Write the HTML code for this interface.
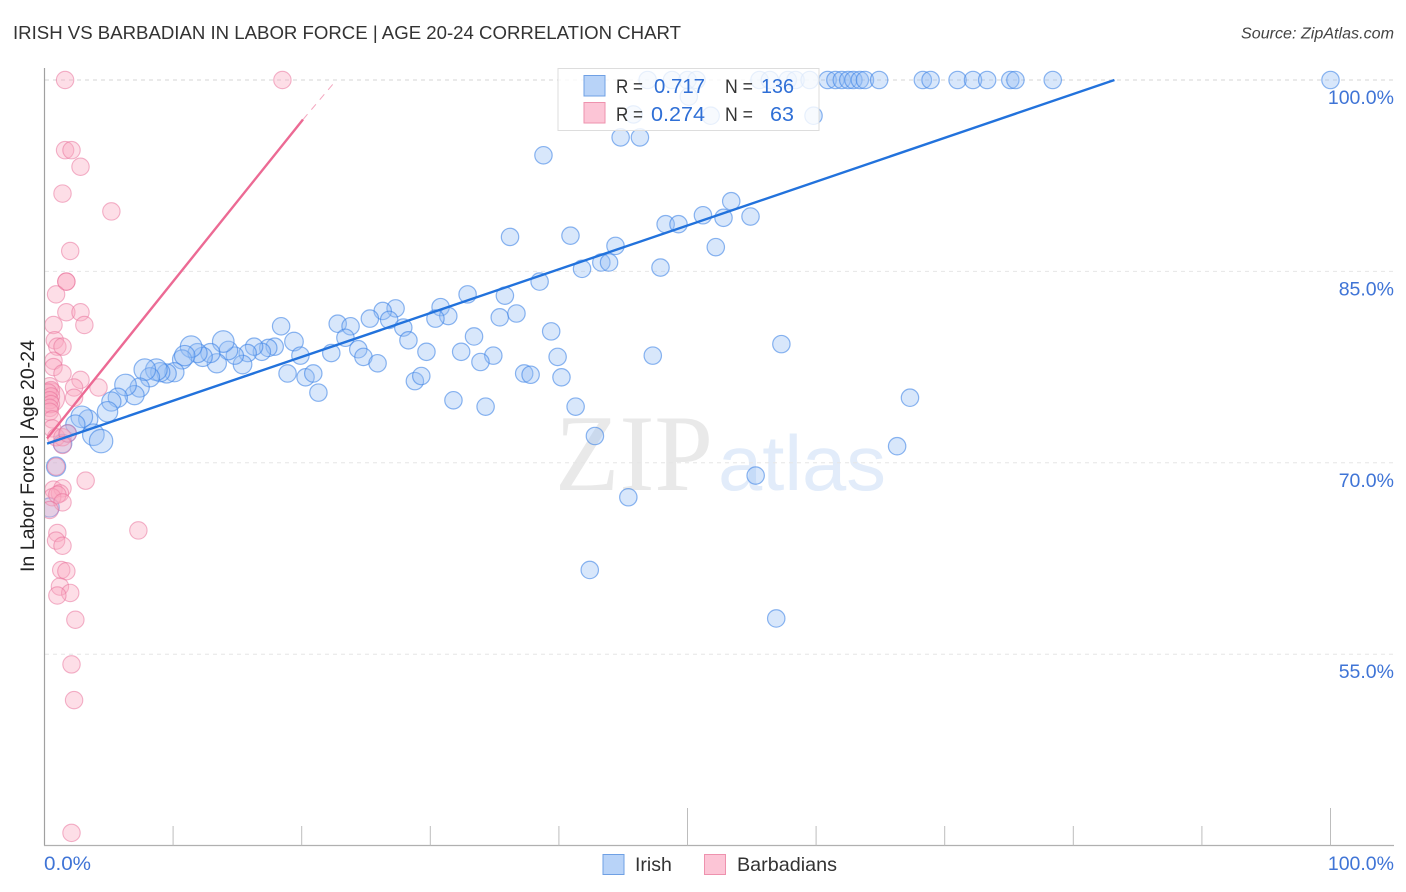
<!DOCTYPE html>
<html lang="en">
<head>
<meta charset="utf-8">
<title>Irish vs Barbadian In Labor Force | Age 20-24 Correlation Chart</title>
<style>
html,body{margin:0;padding:0;background:#fff;}
body{width:1406px;height:892px;overflow:hidden;}
svg{display:block;font-family:"Liberation Sans",Arial,sans-serif;}
</style>
</head>
<body>
<svg id="chart" xmlns="http://www.w3.org/2000/svg" width="1406" height="892" viewBox="0 0 1406 892">
  <defs>
    <clipPath id="plot-clip"><rect x="45" y="60" width="1349" height="785"/></clipPath>
  </defs>
  <rect x="0" y="0" width="1406" height="892" fill="#ffffff"/>
  <text x="13" y="39" font-size="18.5" fill="#333333" textLength="668" lengthAdjust="spacingAndGlyphs">IRISH VS BARBADIAN IN LABOR FORCE | AGE 20-24 CORRELATION CHART</text>
  <text x="1241" y="38.5" font-size="15.5" font-style="italic" fill="#444444" textLength="153" lengthAdjust="spacingAndGlyphs">Source: ZipAtlas.com</text>

  <g>
    <text x="555" y="490" font-family="'Liberation Serif',serif" font-size="109" fill="#e9e9e9" textLength="158" lengthAdjust="spacingAndGlyphs">ZIP</text>
    <text x="718" y="490" font-size="78" fill="#e2ecfa" textLength="168" lengthAdjust="spacingAndGlyphs">atlas</text>
  </g>

  <g id="grid"></g>
  <g id="axes"></g>
  <g clip-path="url(#plot-clip)">
    <g id="irish-series"></g>
    <g id="barbadian-series"></g>
    <g id="trends"></g>
  </g>

  <text transform="translate(34,572) rotate(-90)" font-size="19" fill="#222222" textLength="232" lengthAdjust="spacingAndGlyphs">In Labor Force | Age 20-24</text>

  <g>
    <rect x="558" y="68.5" width="261" height="62" fill="#ffffff" fill-opacity="0.8" stroke="#dddddd" stroke-width="1"/>
    <rect x="584" y="75.5" width="21" height="20.5" fill="#b8d3f8" stroke="#6fa0e4" stroke-width="1"/>
    <rect x="584" y="102.5" width="21" height="20.5" fill="#fcc5d6" stroke="#ee92ae" stroke-width="1"/>
    <text x="616" y="93" font-size="19.5" fill="#333333" textLength="27" lengthAdjust="spacingAndGlyphs">R =</text>
    <text x="654" y="93" font-size="20.5" fill="#2f6fd6" textLength="51" lengthAdjust="spacingAndGlyphs">0.717</text>
    <text x="725" y="93" font-size="19.5" fill="#333333" textLength="28" lengthAdjust="spacingAndGlyphs">N =</text>
    <text x="761" y="93" font-size="20.5" fill="#2f6fd6" textLength="33" lengthAdjust="spacingAndGlyphs">136</text>
    <text x="616" y="121" font-size="19.5" fill="#333333" textLength="27" lengthAdjust="spacingAndGlyphs">R =</text>
    <text x="651" y="121" font-size="20.5" fill="#2f6fd6" textLength="54" lengthAdjust="spacingAndGlyphs">0.274</text>
    <text x="725" y="121" font-size="19.5" fill="#333333" textLength="28" lengthAdjust="spacingAndGlyphs">N =</text>
    <text x="770" y="121" font-size="20.5" fill="#2f6fd6" textLength="24" lengthAdjust="spacingAndGlyphs">63</text>
  </g>

  <g>
    <rect x="603" y="854.5" width="21" height="20" fill="#b8d3f8" stroke="#6fa0e4" stroke-width="1"/>
    <text x="635" y="871" font-size="19.5" fill="#333333">Irish</text>
    <rect x="704.5" y="854.5" width="21" height="20" fill="#fcc5d6" stroke="#ee92ae" stroke-width="1"/>
    <text x="737" y="871" font-size="19.5" fill="#333333" textLength="100" lengthAdjust="spacingAndGlyphs">Barbadians</text>
  </g>
</svg>

<script>
// Chart data (x = Irish/Barbadian share %, y = In Labor Force %)
const yTicks = [100, 85, 70, 55];
const yTickLabels = ["100.0%", "85.0%", "70.0%", "55.0%"];
const xTicks = [10, 20, 30, 40, 50, 60, 70, 80, 90, 100];
const xMajorTicks = [50, 100];
const xEndLabels = ["0.0%", "100.0%"];

const irishX = [
  18.4,19.4,19.9,18.9,20.3,17.9,17.4,16.9,16.3,15.8,15.4,14.8,14.3,13.9,13.4,12.9,12.3,11.9,11.4,10.7,10.9,
  10.1,9.5,9.0,8.7,8.2,7.8,7.4,7.0,6.3,5.7,5.2,4.9,3.4,2.9,2.4,1.8,1.4,3.8,4.4,0.9,0.4,
  46.9,48.8,50.0,50.7,55.6,56.4,57.8,58.4,59.5,60.9,61.5,62.0,62.5,62.9,63.4,63.8,64.9,68.3,68.9,71.0,72.2,73.3,75.1,75.5,78.4,100.0,
  51.8,59.8,45.8,50.1,44.8,46.3,38.8,36.2,40.9,48.3,49.3,51.2,52.8,53.4,54.9,52.2,44.4,43.3,43.9,41.8,47.9,38.5,
  32.9,35.8,30.8,31.4,30.4,35.4,36.7,27.3,26.3,26.8,25.3,27.9,28.3,22.8,23.8,23.4,39.4,33.4,32.4,29.7,34.9,33.9,
  39.9,47.3,57.3,24.4,24.8,25.9,22.3,37.3,37.8,40.2,28.8,29.3,20.9,21.3,31.8,34.3,41.3,42.8,45.4,55.3,66.3,67.3,42.4,56.9
];
const irishY = [
  80.7,79.5,78.4,77.0,76.7,79.1,79.0,78.7,79.1,78.6,77.7,78.4,78.8,79.5,77.8,78.6,78.3,78.6,79.1,78.1,78.4,
  77.1,77.0,77.1,77.3,76.7,77.3,75.9,75.3,76.1,75.1,74.8,74.0,73.4,73.6,73.0,72.3,71.5,72.2,71.7,69.7,66.5,
  100,100,100,100,100,100,100,100,100,100,100,100,100,100,100,100,100,100,100,100,100,100,100,100,100,100,
  97.2,97.2,97.3,98.7,95.5,95.5,94.1,87.7,87.8,88.7,88.7,89.4,89.2,90.5,89.3,86.9,87.0,85.7,85.7,85.2,85.3,84.2,
  83.2,83.1,82.2,81.5,81.3,81.4,81.7,82.1,81.9,81.2,81.3,80.6,79.6,80.9,80.7,79.8,80.3,79.9,78.7,78.7,78.4,77.9,
  78.3,78.4,79.3,78.9,78.3,77.8,78.6,77.0,76.9,76.7,76.4,76.8,77.0,75.5,74.9,74.4,74.4,72.1,67.3,69.0,71.3,75.1,61.6,57.8
];
const irishWeight = [0,2,0,0,0,0,0,0,0,0,2,0,2,7,3,3,3,3,7,3,5,3,3,3,7,3,7,3,3,7,3,3,5,3,7,3,0,2,7,10,3,3];

const barbadianX = [
  0.4,1.6,18.5,1.6,2.1,2.8,1.4,5.2,2.0,1.7,1.7,0.9,1.7,2.8,3.1,0.7,0.8,1.0,1.4,0.7,0.7,1.4,2.8,2.3,2.3,4.2,
  0.4,0.5,0.3,0.5,0.4,0.5,0.4,0.4,0.6,0.6,0.9,1.4,1.8,1.4,0.9,3.2,0.7,1.4,1.2,0.6,1.0,1.4,0.4,
  1.0,0.9,1.4,7.3,1.3,1.7,1.2,2.0,1.0,2.4,2.1,2.3,2.1
];
const barbadianY = [
  75.1,100,100,94.5,94.5,93.2,91.1,89.7,86.6,84.2,84.2,83.2,81.8,81.8,80.8,80.8,79.6,79.1,79.1,78.0,77.5,77.0,76.5,75.9,75.1,75.9,
  76.0,75.7,75.5,75.2,74.9,74.6,74.3,74.0,73.4,72.7,72.0,72.0,72.3,71.4,69.7,68.6,67.9,68.0,67.6,67.3,67.5,66.9,66.3,
  64.5,63.9,63.5,64.7,61.6,61.5,60.3,59.8,59.6,57.7,54.2,51.4,41.0
];
const barbadianWeight = [21];

const irishTrendX = [0.2, 83.2];
const irishTrendY = [71.5, 100];
const barbadianTrendX = [0.2, 20.1];
const barbadianTrendY = [71.9, 96.9];
const barbadianDashedX = [20.1, 22.7];
const barbadianDashedY = [96.9, 100];

// Axis functions
const xScale = v => 44.5 + v * 12.86;
const yScale = v => 80 + (100 - v) * 12.76;
const irishRadius = w => 8.7 + w * 0.3;
const barbadianRadius = w => 8.7 + w * 0.3;

const NS = "http://www.w3.org/2000/svg";
function make(tag, attrs, parent) {
  const el = document.createElementNS(NS, tag);
  for (const k in attrs) el.setAttribute(k, attrs[k]);
  parent.appendChild(el);
  return el;
}

const gridG = document.getElementById("grid");
const axesG = document.getElementById("axes");

yTicks.forEach((t, i) => {
  const y = yScale(t);
  const line = make("line", {x1: 45, x2: 1394, y1: y, y2: y, stroke: i === 0 ? "#d4d4d4" : "#e6e6e6", "stroke-width": 1, "stroke-dasharray": "4 4"}, gridG);
  
  
  const label = make("text", {x: 1394, y: yScale(t) + 24, "text-anchor": "end", "font-size": 19.5, fill: "#3f74d6"}, axesG);
  label.textContent = yTickLabels[i];
  
  
});

const yAxisLine = make("line", {x1: 44.5, x2: 44.5, y1: 68, y2: 845.5, stroke: "#a0a0a0", "stroke-width": 1.2}, axesG);


const xAxisLine = make("line", {x1: 44, x2: 1394, y1: 845.5, y2: 845.5, stroke: "#b0b0b0", "stroke-width": 1.2}, axesG);



xTicks.forEach(t => {
  const x = xScale(t);
  const major = xMajorTicks.indexOf(t) >= 0;
  const tick = make("line", {x1: x, x2: x, y1: major ? 808 : 826, y2: 845.5, stroke: "#bdbdbd", "stroke-width": 1}, axesG);
  
  
});

const xLabelLeft = make("text", {x: 44, y: 870, "font-size": 19.5, fill: "#3f74d6", textLength: 47, lengthAdjust: "spacingAndGlyphs"}, axesG);
xLabelLeft.textContent = xEndLabels[0];


const xLabelRight = make("text", {x: 1394, y: 870, "text-anchor": "end", "font-size": 19.5, fill: "#3f74d6"}, axesG);
xLabelRight.textContent = xEndLabels[1];



const irishG = document.getElementById("irish-series");
irishX.forEach((v, i) => {
  const c = make("circle", {
    cx: xScale(v), cy: yScale(irishY[i]), r: irishRadius(irishWeight[i] || 0),
    fill: "#93bdf5", "fill-opacity": 0.36, stroke: "#3b82e6", "stroke-opacity": 0.58, "stroke-width": 1.2
  }, irishG);
  
  
});

const barbadianG = document.getElementById("barbadian-series");
barbadianX.forEach((v, i) => {
  const c = make("circle", {
    cx: xScale(v), cy: yScale(barbadianY[i]), r: barbadianRadius(barbadianWeight[i] || 0),
    fill: "#f9a8c0", "fill-opacity": 0.38, stroke: "#e8709a", "stroke-opacity": 0.52, "stroke-width": 1.1
  }, barbadianG);
  
  
});

const trendsG = document.getElementById("trends");
const irishTrend = make("line", {
  x1: xScale(irishTrendX[0]), y1: yScale(irishTrendY[0]), x2: xScale(irishTrendX[1]), y2: yScale(irishTrendY[1]),
  stroke: "#2272dc", "stroke-width": 2.4
}, trendsG);


const barbadianTrend = make("line", {
  x1: xScale(barbadianTrendX[0]), y1: yScale(barbadianTrendY[0]), x2: xScale(barbadianTrendX[1]), y2: yScale(barbadianTrendY[1]),
  stroke: "#ec6a94", "stroke-width": 2.4
}, trendsG);


const barbadianDashed = make("line", {
  x1: xScale(barbadianDashedX[0]), y1: yScale(barbadianDashedY[0]), x2: xScale(barbadianDashedX[1]), y2: yScale(barbadianDashedY[1]),
  stroke: "#ec6a94", "stroke-width": 1, "stroke-dasharray": "7 6", "stroke-opacity": 0.6
}, trendsG);


</script>
</body>
</html>
